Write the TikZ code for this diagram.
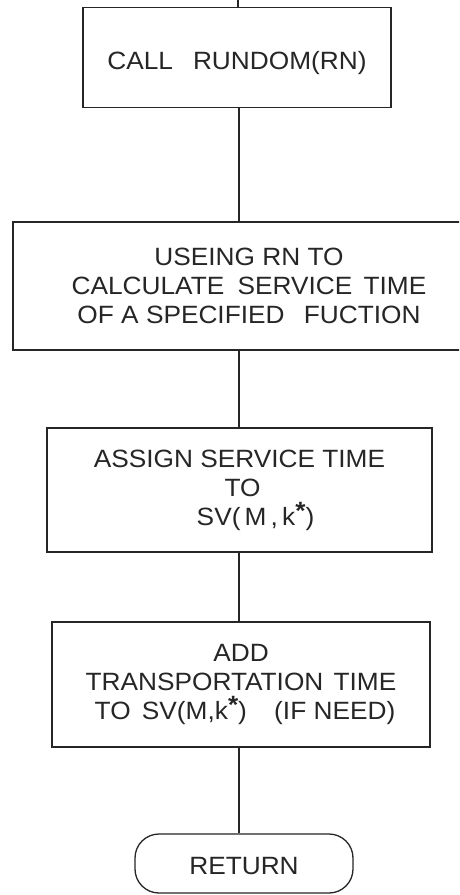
\documentclass[tikz,border=0pt]{standalone}
\usepackage{fontspec}
\setmainfont{Liberation Sans}[FakeStretch=1.05]
\begin{document}
\begin{tikzpicture}[x=1pt,y=-1pt,
  ink/.style={draw=black!85, line width=1.3pt},
  txt/.style={font=\fontsize{25}{29}\selectfont, text=black!85, align=center},
  procbox/.style={ink, txt, rectangle, inner sep=0pt},
  termbox/.style={ink, txt, rectangle, rounded corners=24pt, inner sep=0pt},
  conn/.style={draw=black!85, line width=1.2pt}]
\path[use as bounding box] (0,0) rectangle (459,895);
\clip (0,0) rectangle (459,895);
\fill[white] (0,0) rectangle (459,895);
\coordinate (X) at (239,0);
\coordinate (top) at (238,0);
\node[procbox, minimum width=308pt, minimum height=100pt] (b1) at (237,57.5)
  {\raisebox{-12pt}[0pt][0pt]{CALL\hspace{20pt}RUNDOM(RN)}};
\node[procbox, minimum width=472pt, minimum height=128pt] (b2) at (249,286)
  {USEING RN TO\\CALCULATE\hspace{6pt} SERVICE\hspace{4pt} TIME\\OF A SPECIFIED\hspace{12pt} FUCTION};
\node[procbox, minimum width=385pt, minimum height=124pt] (b3) at (239.5,490)
  {ASSIGN SERVICE TIME\\\hspace*{6pt}TO\\\hspace*{32pt}SV(\,M\,,\,k\raisebox{6pt}{\textbf{*}})};
\node[procbox, minimum width=378pt, minimum height=125pt] (b4) at (241,684.5)
  {ADD\\TRANSPORTATION\hspace{3pt} TIME\\\hspace*{8pt}TO\hspace{4pt} SV(M,k\raisebox{6pt}{\textbf{*}})\hspace{20pt} (IF NEED)};
\node[termbox, minimum width=218pt, minimum height=59pt] (ret) at (244,863.5)
  {\raisebox{-11pt}[0pt][0pt]{RETURN}};
\draw[conn] (top) -- (b1.north -| top);
\draw[conn] (b1.south -| X) -- (b2.north -| X);
\draw[conn] (b2.south -| X) -- (b3.north -| X);
\draw[conn] (b3.south -| X) -- (b4.north -| X);
\draw[conn] (b4.south -| X) -- (ret.north -| X);
\end{tikzpicture}
\end{document}
